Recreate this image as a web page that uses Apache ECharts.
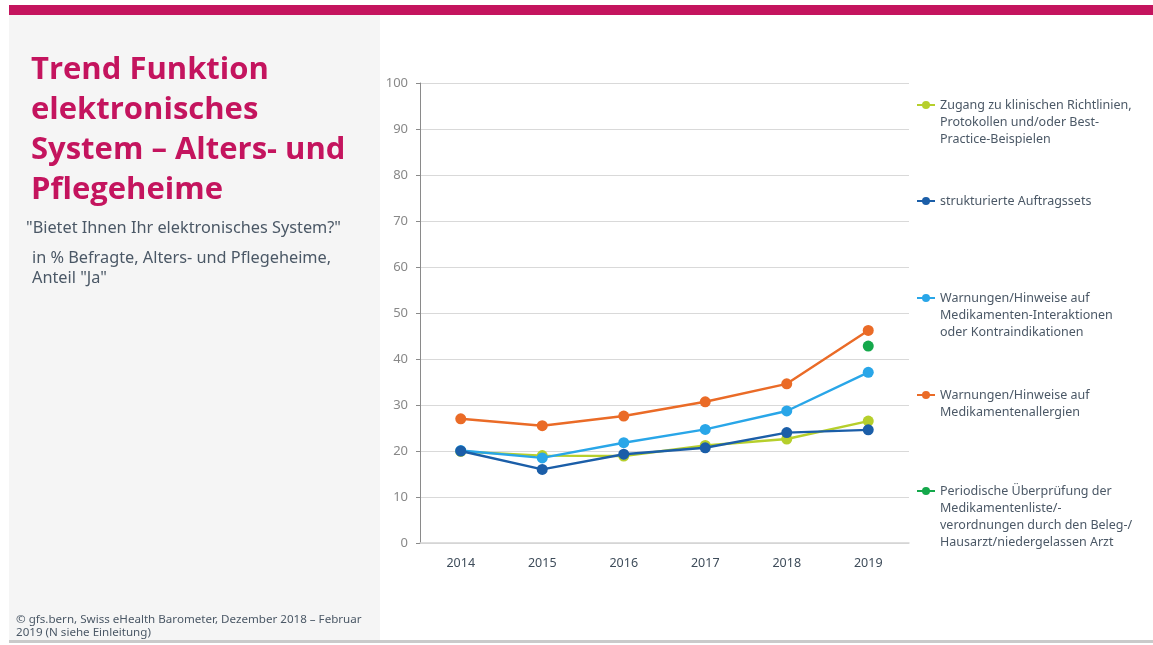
<!DOCTYPE html>
<html>
<head>
<meta charset="utf-8">
<script src="https://cdn.jsdelivr.net/npm/echarts@6/dist/echarts.min.js"></script>
<style>
html,body{margin:0;padding:0;background:#fff;}
#chart{width:1153px;height:645px;}
</style>
</head>
<body>
<div id="chart"></div>
<script>
var years = ['2014','2015','2016','2017','2018','2019'];
var seriesNames = [
  'Zugang zu klinischen Richtlinien,\nProtokollen und/oder Best-\nPractice-Beispielen',
  'strukturierte Auftragssets',
  'Warnungen/Hinweise auf\nMedikamenten-Interaktionen\noder Kontraindikationen',
  'Warnungen/Hinweise auf\nMedikamentenallergien',
  'Periodische Überprüfung der\nMedikamentenliste/-\nverordnungen durch den Beleg-/\nHausarzt/niedergelassen Arzt'
];
var richtlinien   = [19.9, 19.0, 18.9, 21.2, 22.6, 26.5];
var auftragssets  = [20.0, 16.0, 19.3, 20.7, 24.0, 24.6];
var interaktionen = [20.1, 18.5, 21.8, 24.7, 28.7, 37.1];
var allergien     = [27.0, 25.5, 27.6, 30.7, 34.6, 46.2];
var ueberpruefung = [null, null, null, null, null, 42.8];
var yTicks = [0, 10, 20, 30, 40, 50, 60, 70, 80, 90, 100];

var colors = ['#b6cf2c', '#1b5ea8', '#29a6e8', '#ea6b27', '#14a84b'];
var values = [richtlinien, auftragssets, interaktionen, allergien, ueberpruefung];
var legendTops = [105, 201, 298, 395, 491];
var LH = 17;

var chart = echarts.init(document.getElementById('chart'));
var legends = seriesNames.map(function (n, i) {
  var lines = n.split('\n').length;
  var prefix = new Array(lines).join('\n');
  return {
    data: [n],
    left: 916,
    top: legendTops[i] - (2 * lines - 1) * LH / 2,
    orient: 'vertical',
    itemWidth: 18,
    itemHeight: 10,
    itemGap: 0,
    padding: 0,
    selectedMode: false,
    formatter: function (name) { return prefix + name; },
    textStyle: {
      fontFamily: 'Noto Sans',
      fontSize: 12.5,
      color: '#4b5866',
      lineHeight: LH
    }
  };
});

var series = seriesNames.map(function (n, i) {
  return {
    name: n,
    type: 'line',
    data: values[i],
    symbol: 'circle',
    symbolSize: 11,
    lineStyle: { width: 2.4, color: colors[i] },
    itemStyle: { color: colors[i] },
    emphasis: { disabled: true },
    z: [3, 5, 4, 2, 2][i]
  };
});

chart.setOption({
  animation: false,
  backgroundColor: '#ffffff',
  textStyle: { fontFamily: 'Noto Sans' },
  graphic: [
    { type: 'rect', shape: { x: 9, y: 15, width: 371, height: 626 }, style: { fill: '#f5f5f5' }, z: -10 },
    { type: 'rect', shape: { x: 9, y: 5, width: 1144, height: 10 }, style: { fill: '#c4145e' } },
    { type: 'rect', shape: { x: 9, y: 640, width: 1144, height: 3 }, style: { fill: '#cacaca' } },
    { type: 'text', left: 31, top: 50, style: { text: 'Trend Funktion\nelektronisches\nSystem – Alters- und\nPflegeheime', font: 'bold 31px "Open Sans"', lineHeight: 40, fill: '#c4145e' } },
    { type: 'text', left: 26, top: 220, style: { text: '"Bietet Ihnen Ihr elektronisches System?"', font: '16.3px "Noto Sans"', fill: '#4b5866' } },
    { type: 'text', left: 32, top: 248, style: { text: 'in % Befragte, Alters- und Pflegeheime,\nAnteil "Ja"', font: '16.3px "Noto Sans"', lineHeight: 20, fill: '#4b5866' } },
    { type: 'text', left: 16, top: 613, style: { text: '© gfs.bern, Swiss eHealth Barometer, Dezember 2018 – Februar\n2019 (N siehe Einleitung)', font: '11.6px "Noto Sans"', lineHeight: 13, fill: '#4b5866' } }
  ],
  legend: legends,
  grid: { left: 420, top: 83, width: 489, height: 460, containLabel: false },
  xAxis: {
    type: 'category',
    data: years,
    boundaryGap: true,
    axisLine: { lineStyle: { color: '#d4d4d4', width: 1.5 } },
    axisTick: { show: false },
    axisLabel: { color: '#3e4c5a', fontSize: 12.5, margin: 14 },
    splitLine: { show: false }
  },
  yAxis: {
    type: 'value',
    min: 0,
    max: 100,
    interval: 10,
    axisLine: { show: true, lineStyle: { color: '#8a8a8a', width: 1 } },
    axisTick: { show: true, length: 4, lineStyle: { color: '#8a8a8a' } },
    axisLabel: {
      color: '#888888', fontSize: 13, margin: 12,
      formatter: function (v) { return yTicks.indexOf(v) >= 0 ? String(v) : ''; }
    },
    splitLine: { lineStyle: { color: '#d9d9d9', width: 1 } }
  },
  series: series
});
</script>
</body>
</html>
